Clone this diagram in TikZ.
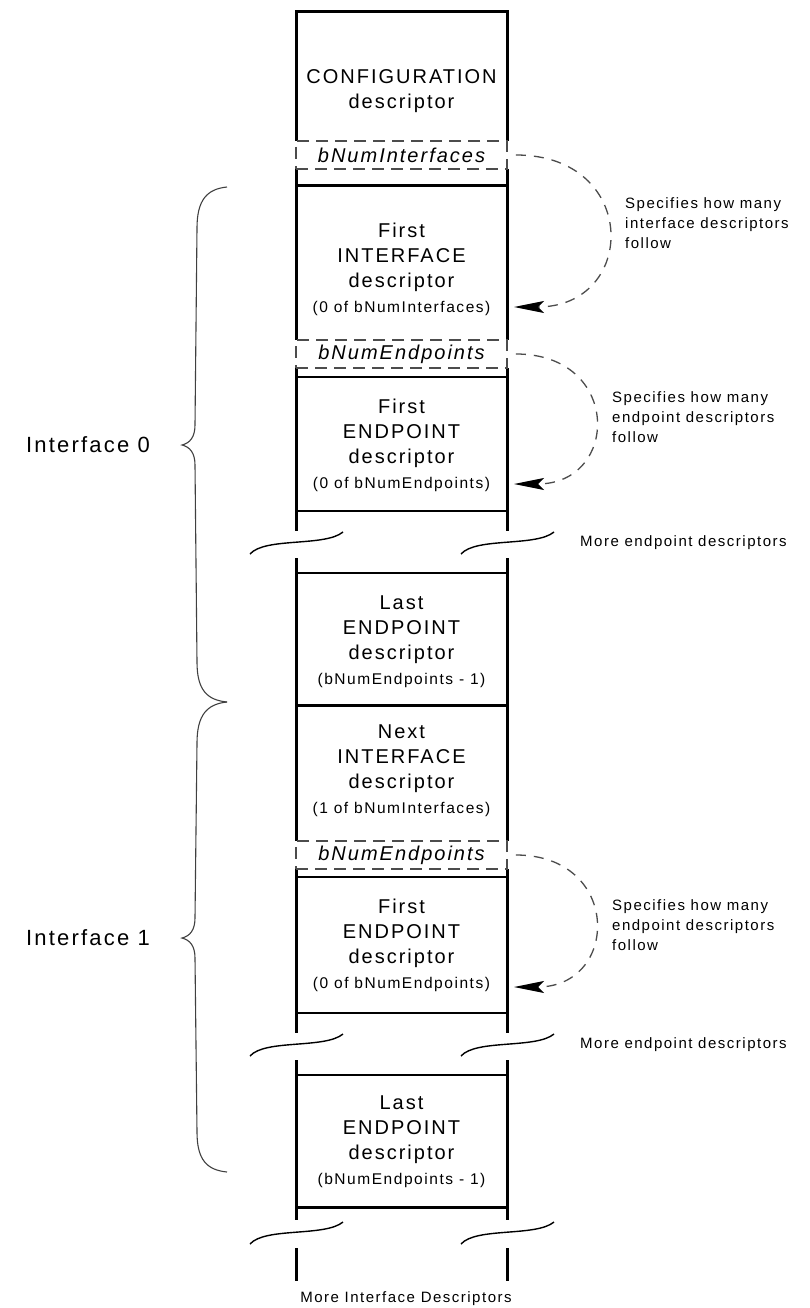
\documentclass[tikz,border=0pt]{standalone}
\usepackage{fontspec}
\setmainfont{Liberation Sans}[LetterSpace=10]
\usetikzlibrary{arrows.meta}

\newcommand\cntfont{\fontsize{15.5}{25}\selectfont}

\tikzset{
  col/.style={line width=3pt},
  thinsep/.style={line width=1.5pt},
  numbox/.style={draw=black!70, line width=1.8pt, dash pattern=on 12pt off 7pt,
    minimum width=211pt, minimum height=28pt, inner sep=0pt,
    font=\fontsize{20}{24}\selectfont\itshape},
  desc/.style={align=center, inner sep=0pt, font=\fontsize{20}{25}\selectfont},
  note/.style={align=left, anchor=west, inner sep=0pt, font=\fontsize{15}{20}\selectfont},
  count/.style={black!70, line width=1.3pt, dash pattern=on 10pt off 8pt,
    -{Stealth[length=30pt,width=12pt,inset=6pt,black]}},
  squig/.style={line width=1.4pt},
  brace/.style={black!75, line width=1.1pt},
}

\begin{document}
\begin{tikzpicture}[x=1pt,y=-1pt]

\newcommand\XL{296}
\newcommand\XR{507}
\newcommand\XM{401.5}

  \useasboundingbox (0,0) rectangle (809,1308);

  %% column edges
  \draw[col] (\XL,141) -- (\XL,12) -- (\XR,12) -- (\XR,141);
  \foreach \x in {\XL,\XR} {
    \draw[col] (\x,169) -- (\x,340);
    \draw[col] (\x,368) -- (\x,531);
    \draw[col] (\x,558) -- (\x,841);
    \draw[col] (\x,869) -- (\x,1033);
    \draw[col] (\x,1060) -- (\x,1220);
    \draw[col] (\x,1248) -- (\x,1281);
  }

  %% separators
  \draw[col] (\XL,186) -- (\XR,186);
  \draw[thinsep] (\XL,377) -- (\XR,377);
  \draw[thinsep] (\XL,511) -- (\XR,511);
  \draw[thinsep] (\XL,573) -- (\XR,573);
  \draw[col] (\XL,705) -- (\XR,705);
  \draw[thinsep] (\XL,877) -- (\XR,877);
  \draw[thinsep] (\XL,1013) -- (\XR,1013);
  \draw[thinsep] (\XL,1075) -- (\XR,1075);
  \draw[col] (\XL,1207) -- (\XR,1207);

  %% breaks
  \foreach \x in {\XL,\XR} {
    \foreach \y in {544,1046,1234} {
      \draw[squig] (\x-46,\y+10) .. controls +(15,-17) and +(-18,15) .. (\x+47,\y-12);
    }
  }

  %% descriptors
  \node[desc] (config) at (\XM,91) {CONFIGURATION\\descriptor};
  \node[numbox] (numif) at (\XM,155) {bNumInterfaces};
  \node[desc] (if0) at (\XM,269)
  {First\\INTERFACE\\descriptor\\{\cntfont (0 of bNumInterfaces)}};
  \node[numbox] (numep0) at (\XM,354) {bNumEndpoints};
  \node[desc] (ep0first) at (\XM,445)
  {First\\ENDPOINT\\descriptor\\{\cntfont (0 of bNumEndpoints)}};
  \node[desc] (ep0last) at (\XM,642)
  {Last\\ENDPOINT\\descriptor\\{\cntfont (bNumEndpoints - 1)}};
  \node[desc] (if1) at (\XM,771)
  {Next\\INTERFACE\\descriptor\\{\cntfont (1 of bNumInterfaces)}};
  \node[numbox] (numep1) at (\XM,855) {bNumEndpoints};
  \node[desc] (ep1first) at (\XM,945)
  {First\\ENDPOINT\\descriptor\\{\cntfont (0 of bNumEndpoints)}};
  \node[desc] (ep1last) at (\XM,1142)
  {Last\\ENDPOINT\\descriptor\\{\cntfont (bNumEndpoints - 1)}};

  %% notes
  \node[note] (ifnote) at (625,223) {Specifies how many\\interface descriptors\\follow};
  \node[note] (ep0note) at (612,417) {Specifies how many\\endpoint descriptors\\follow};
  \node[note] (ep1note) at (612,925) {Specifies how many\\endpoint descriptors\\follow};
  \node[note] (more0) at (580,543) {More endpoint descriptors};
  \node[note] (more1) at (580,1045) {More endpoint descriptors};
  \node[note, anchor=center] (moreif) at (406,1299) {More Interface Descriptors};

  %% count arrows
  \coordinate (ifcnt) at (514,307);
  \coordinate (ep0cnt) at (514,484);
  \coordinate (ep1cnt) at (514,987);
  \draw[count] ([xshift=8pt]numif.east) .. controls +(124,0) and +(124,0) .. (ifcnt);
  \draw[count] ([xshift=8pt]numep0.east) .. controls +(106,0) and +(106,0) .. (ep0cnt);
  \draw[count] ([xshift=8pt]numep1.east) .. controls +(106,0) and +(106,0) .. (ep1cnt);

  %% interfaces
  \node[font=\fontsize{22}{26}\selectfont, inner sep=0pt] (iface0) at (88,445) {Interface 0};
  \node[font=\fontsize{22}{26}\selectfont, inner sep=0pt] (iface1) at (88,938) {Interface 1};
  \draw[brace] (227,187) .. controls (207,189) and (197,200) .. (197,228)
  -- (195,425) .. controls (195,437) and (190,443) .. (182,445)
  .. controls (190,447) and (195,453) .. (195,465)
  -- (197,662) .. controls (197,690) and (207,700) .. (227,702);
  \draw[brace] (227,702) .. controls (207,704) and (197,715) .. (197,743)
  -- (195,918) .. controls (195,930) and (190,936) .. (182,938)
  .. controls (190,940) and (195,946) .. (195,958)
  -- (197,1132) .. controls (197,1160) and (207,1170) .. (227,1172);

\end{tikzpicture}
\end{document}
